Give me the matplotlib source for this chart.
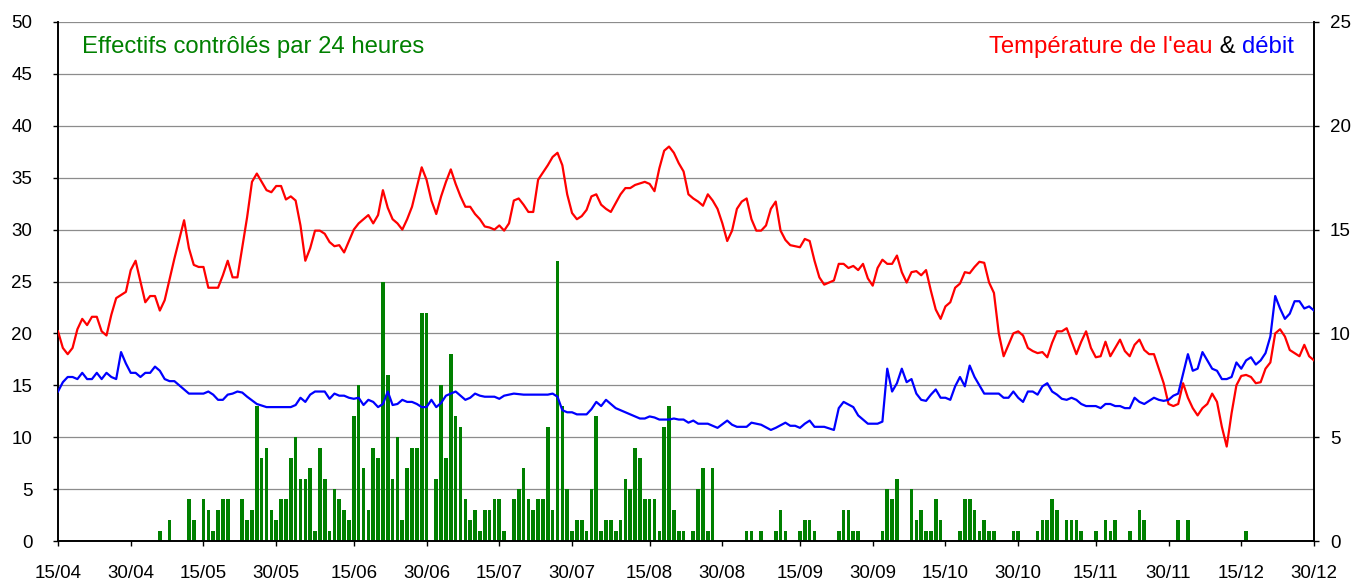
import matplotlib
matplotlib.use("Agg")
import matplotlib.pyplot as plt
import pandas as pd

plt.rcParams["font.family"] = ["Liberation Sans", "DejaVu Sans"]

START = "2021-04-15"
END = "2021-12-30"

# fish counted per 24 h (day offset from START -> count)
bar_days = [21, 23, 27, 28, 30, 31, 32, 33, 34, 35, 38, 39, 40, 41, 42, 43, 44, 45, 46, 47,
            48, 49, 50, 51, 52, 53, 54, 55, 56, 57, 58, 59, 60, 61, 62, 63, 64, 65, 66, 67,
            68, 69, 70, 71, 72, 73, 74, 75, 76, 78, 79, 80, 81, 82, 83, 84, 85, 86, 87, 88,
            89, 90, 91, 92, 94, 95, 96, 97, 98, 99, 100, 101, 102, 103, 104, 105, 106, 107, 108, 109,
            110, 111, 112, 113, 114, 115, 116, 117, 118, 119, 120, 121, 122, 123, 124, 125, 126, 127, 128, 129,
            131, 132, 133, 134, 135, 142, 143, 145, 148, 149, 150, 153, 154, 155, 156, 161, 162, 163, 164, 165,
            170, 171, 172, 173, 176, 177, 178, 179, 180, 181, 182, 186, 187, 188, 189, 190, 191, 192, 193, 197,
            198, 202, 203, 204, 205, 206, 208, 209, 210, 211, 214, 216, 217, 218, 221, 223, 224, 231, 233, 245]
bar_counts = [1, 2, 4, 2, 4, 3, 1, 3, 4, 4, 4, 2, 3, 13, 8, 9, 3, 2, 4, 4,
              8, 10, 6, 6, 7, 1, 9, 6, 1, 5, 4, 3, 2, 12, 15, 7, 3, 9, 8, 25,
              16, 6, 10, 2, 7, 9, 9, 22, 22, 6, 15, 8, 18, 12, 11, 4, 2, 3, 1, 3,
              3, 4, 4, 1, 4, 5, 7, 4, 3, 4, 4, 11, 3, 27, 13, 5, 1, 2, 2, 1,
              5, 12, 1, 2, 2, 1, 2, 6, 5, 9, 8, 4, 4, 4, 1, 11, 13, 3, 1, 1,
              1, 5, 7, 1, 7, 1, 1, 1, 1, 3, 1, 1, 2, 2, 1, 1, 3, 3, 1, 1,
              1, 5, 4, 6, 5, 2, 3, 1, 1, 4, 2, 1, 4, 4, 3, 1, 2, 1, 1, 1,
              1, 1, 2, 2, 4, 3, 2, 2, 2, 1, 1, 2, 1, 2, 1, 3, 2, 2, 2, 1]

# water temperature (right axis)
temp_days = [0, 1, 2, 3, 4, 5, 6, 7, 8, 9, 10, 11, 12, 14, 15, 16, 17, 18, 19, 20,
             21, 22, 24, 26, 27, 28, 29, 30, 31, 33, 34, 35, 36, 37, 39, 40, 41, 43, 44, 45,
             46, 47, 48, 49, 50, 51, 52, 53, 54, 55, 56, 57, 58, 59, 61, 62, 64, 65, 66, 67,
             68, 69, 70, 71, 72, 73, 75, 76, 77, 78, 79, 80, 81, 82, 83, 84, 85, 86, 87, 88,
             89, 90, 91, 92, 93, 94, 95, 96, 97, 98, 99, 101, 102, 103, 104, 105, 106, 107, 108, 109,
             110, 111, 112, 113, 114, 116, 117, 118, 119, 121, 122, 123, 124, 125, 126, 127, 128, 129, 130, 131,
             132, 133, 134, 135, 136, 137, 138, 139, 140, 141, 142, 143, 144, 145, 146, 147, 148, 149, 150, 151,
             153, 154, 155, 156, 157, 158, 159, 160, 161, 162, 163, 164, 165, 166, 167, 168, 169, 170, 171, 172,
             173, 174, 175, 176, 177, 178, 179, 180, 181, 182, 183, 184, 185, 186, 187, 188, 189, 190, 191, 192,
             193, 194, 195, 196, 197, 198, 199, 200, 201, 202, 203, 204, 205, 206, 207, 208, 210, 211, 212, 213,
             214, 215, 216, 217, 218, 219, 220, 221, 222, 223, 224, 225, 226, 227, 228, 229, 230, 231, 232, 233,
             234, 235, 236, 237, 238, 239, 240, 241, 242, 243, 244, 245, 246, 247, 248, 249, 250, 251, 252, 253,
             254, 255, 256, 257, 258, 259]
temp_values = [10.1, 9.3, 9.0, 9.3, 10.2, 10.7, 10.4, 10.8, 10.8, 10.1, 9.9, 10.9, 11.7, 12.0, 13.05, 13.5, 12.5, 11.5, 11.8, 11.8,
               11.1, 11.6, 13.6, 15.45, 14.1, 13.3, 13.2, 13.2, 12.2, 12.2, 12.8, 13.5, 12.7, 12.7, 15.6, 17.3, 17.7, 16.9, 16.8, 17.1,
               17.1, 16.45, 16.6, 16.4, 15.2, 13.5, 14.1, 14.95, 14.95, 14.8, 14.4, 14.2, 14.25, 13.9, 15.0, 15.3, 15.7, 15.3, 15.7, 16.9,
               16.05, 15.5, 15.3, 15.0, 15.5, 16.1, 18.0, 17.4, 16.4, 15.75, 16.6, 17.3, 17.9, 17.2, 16.6, 16.1, 16.1, 15.75, 15.5, 15.15,
               15.1, 15.0, 15.2, 14.95, 15.3, 16.4, 16.5, 16.2, 15.85, 15.85, 17.4, 18.1, 18.5, 18.7, 18.1, 16.7, 15.8, 15.5, 15.65, 15.95,
               16.6, 16.7, 16.2, 16.0, 15.85, 16.7, 17.0, 17.0, 17.15, 17.3, 17.2, 16.85, 17.95, 18.8, 19.0, 18.7, 18.2, 17.8, 16.7, 16.5,
               16.35, 16.15, 16.7, 16.4, 16.0, 15.3, 14.45, 14.95, 16.0, 16.35, 16.5, 15.5, 14.95, 14.95, 15.2, 16.0, 16.35, 14.95, 14.5, 14.25,
               14.15, 14.55, 14.45, 13.5, 12.7, 12.35, 12.45, 12.55, 13.35, 13.35, 13.15, 13.25, 13.05, 13.35, 12.65, 12.3, 13.15, 13.55, 13.35, 13.35,
               13.75, 12.95, 12.45, 12.95, 13.0, 12.8, 13.05, 12.05, 11.15, 10.7, 11.3, 11.5, 12.2, 12.4, 12.95, 12.9, 13.2, 13.45, 13.4, 12.45,
               11.95, 10.0, 8.9, 9.45, 10.0, 10.1, 9.9, 9.3, 9.15, 9.05, 9.1, 8.85, 9.55, 10.1, 10.1, 10.25, 9.0, 9.6, 10.1, 9.3,
               8.85, 8.9, 9.6, 8.9, 9.3, 9.7, 9.15, 8.9, 9.45, 9.7, 9.2, 9.0, 9.0, 8.3, 7.6, 6.6, 6.5, 6.6, 7.6, 6.9,
               6.4, 6.05, 6.4, 6.6, 7.1, 6.7, 5.5, 4.55, 6.15, 7.5, 7.95, 8.0, 7.9, 7.6, 7.65, 8.3, 8.6, 10.0, 10.2, 9.85,
               9.2, 9.05, 8.9, 9.45, 8.9, 8.7]

# river flow (right axis)
flow_days = [0, 1, 2, 3, 4, 5, 6, 7, 8, 9, 10, 11, 12, 13, 14, 15, 16, 17, 18, 19,
             20, 21, 22, 23, 24, 25, 27, 30, 31, 32, 33, 34, 35, 36, 37, 38, 39, 41, 43, 48,
             49, 50, 51, 52, 53, 55, 56, 57, 58, 59, 60, 61, 62, 63, 64, 65, 66, 67, 68, 69,
             70, 71, 72, 73, 74, 75, 76, 77, 78, 79, 80, 82, 83, 84, 85, 86, 87, 88, 90, 91,
             92, 93, 94, 96, 101, 102, 103, 104, 105, 106, 107, 109, 110, 111, 112, 113, 114, 115, 116, 117,
             118, 120, 121, 122, 123, 124, 126, 127, 128, 129, 130, 131, 132, 134, 136, 138, 139, 140, 142, 143,
             145, 147, 148, 150, 151, 152, 153, 154, 155, 156, 158, 160, 161, 162, 164, 165, 166, 167, 169, 170,
             171, 172, 173, 174, 175, 176, 177, 178, 179, 180, 181, 182, 183, 184, 185, 186, 187, 188, 189, 190,
             191, 194, 195, 196, 197, 198, 199, 200, 201, 202, 203, 204, 205, 206, 207, 208, 209, 210, 211, 212,
             214, 215, 216, 217, 218, 219, 220, 221, 222, 223, 224, 225, 226, 227, 228, 229, 230, 231, 232, 233,
             234, 235, 236, 237, 238, 239, 240, 241, 242, 243, 244, 245, 246, 247, 248, 249, 250, 251, 252, 253,
             254, 255, 256, 257, 258, 259]
flow_values = [7.2, 7.65, 7.9, 7.9, 7.8, 8.1, 7.8, 7.8, 8.1, 7.8, 8.1, 7.9, 7.8, 9.1, 8.55, 8.1, 8.1, 7.9, 8.1, 8.1,
               8.4, 8.2, 7.8, 7.7, 7.7, 7.5, 7.1, 7.1, 7.2, 7.05, 6.8, 6.8, 7.05, 7.1, 7.2, 7.15, 6.95, 6.6, 6.45, 6.45,
               6.55, 6.9, 6.7, 7.05, 7.2, 7.2, 6.85, 7.1, 7.0, 7.0, 6.9, 6.85, 6.9, 6.55, 6.8, 6.7, 6.45, 6.6, 7.2, 6.55,
               6.6, 6.8, 6.7, 6.7, 6.6, 6.45, 6.45, 6.8, 6.45, 6.65, 7.0, 7.2, 7.0, 6.8, 6.9, 7.1, 7.0, 6.95, 6.95, 6.85,
               7.0, 7.05, 7.1, 7.05, 7.05, 7.1, 6.95, 6.3, 6.2, 6.2, 6.1, 6.1, 6.35, 6.7, 6.5, 6.8, 6.6, 6.4, 6.3, 6.2,
               6.1, 5.9, 5.9, 6.0, 5.95, 5.85, 5.85, 5.9, 5.85, 5.85, 5.7, 5.8, 5.65, 5.65, 5.45, 5.8, 5.6, 5.5, 5.5, 5.7,
               5.6, 5.35, 5.45, 5.7, 5.55, 5.55, 5.45, 5.65, 5.8, 5.5, 5.5, 5.35, 6.4, 6.7, 6.45, 6.05, 5.85, 5.65, 5.65, 5.75,
               8.3, 7.2, 7.6, 8.3, 7.65, 7.8, 7.1, 6.8, 6.75, 7.05, 7.3, 6.9, 6.9, 6.8, 7.45, 7.9, 7.45, 8.45, 7.9, 7.5,
               7.1, 7.1, 6.9, 6.9, 7.2, 6.9, 6.7, 7.2, 7.2, 7.05, 7.45, 7.6, 7.2, 7.05, 6.85, 6.8, 6.9, 6.8, 6.6, 6.5,
               6.5, 6.4, 6.6, 6.6, 6.5, 6.5, 6.4, 6.4, 6.9, 6.7, 6.6, 6.75, 6.9, 6.8, 6.75, 6.8, 7.0, 7.1, 8.05, 9.0,
               8.2, 8.3, 9.1, 8.7, 8.3, 8.2, 7.8, 7.8, 7.9, 8.6, 8.3, 8.7, 8.85, 8.5, 8.7, 9.05, 9.85, 11.8, 11.2, 10.7,
               10.95, 11.55, 11.55, 11.2, 11.3, 11.1]

left_ticks = list(range(0, 51, 5))
right_ticks = list(range(0, 26, 5))

dates = pd.date_range(START, END, freq="D")
x_ticks = [d for d in dates if d.day in (15, 30)]
x_labels = [d.strftime("%d/%m") for d in x_ticks]

W, H = 1358, 583
fig = plt.figure(figsize=(W / 100, H / 100), dpi=100)
ax = fig.add_axes([58 / W, 42 / H, 1256 / W, 519 / H])
ax2 = ax.twinx()

ax.bar(dates[bar_days], bar_counts, width=0.75, color="#008000", zorder=2)
ax2.plot(dates[temp_days], temp_values, color="#ff0000", lw=1.6, zorder=3)
ax2.plot(dates[flow_days], flow_values, color="#0000ff", lw=1.6, zorder=3)

ax.set_xlim(dates[0], dates[-1])
ax.set_ylim(0, 50)
ax2.set_ylim(0, 25)
ax.set_yticks(left_ticks)
ax2.set_yticks(right_ticks)
ax.set_xticks(x_ticks)
ax.set_xticklabels(x_labels)

ax.set_axisbelow(True)
ax.yaxis.grid(True, color="#8c8c8c", lw=0.9)
ax.xaxis.grid(False)

for a in (ax, ax2):
    a.spines["top"].set_visible(False)
    for side in ("left", "right", "bottom"):
        a.spines[side].set_color("black")
        a.spines[side].set_linewidth(1.2)

ax.tick_params(axis="y", direction="out", length=3.5, width=1, labelsize=13.5, pad=15)
ax2.tick_params(axis="y", direction="out", length=3.5, width=1, labelsize=13.5, pad=8)
ax.tick_params(axis="x", direction="out", length=3.5, width=1, labelsize=13.5, pad=14)

FS = 17.2
ax.text(0.019, 0.952, "Effectifs contrôlés par 24 heures", transform=ax.transAxes,
        color="#008000", fontsize=FS, ha="left", va="center", zorder=5)
t3 = ax2.text(0.984, 0.952, "débit", transform=ax2.transAxes,
              color="#0000ff", fontsize=FS, ha="right", va="center", zorder=5)
t2 = ax2.annotate(" & ", xy=(0, 0), xycoords=t3, ha="right", va="bottom",
                  color="black", fontsize=FS, zorder=5)
ax2.annotate("Température de l'eau", xy=(0, 0), xycoords=t2, ha="right", va="bottom",
             color="#ff0000", fontsize=FS, zorder=5)

fig.savefig("out.png", dpi=100)
